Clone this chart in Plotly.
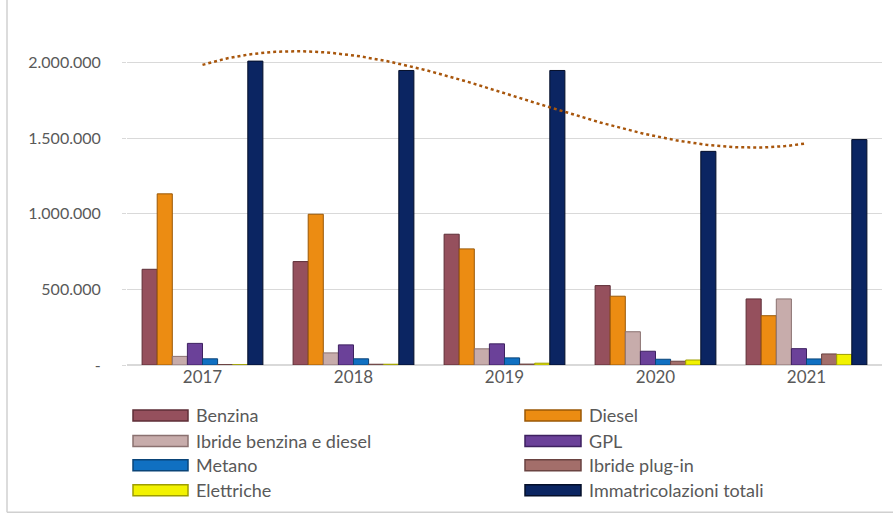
import numpy as np
import plotly.graph_objects as go

# Immatricolazioni auto in Italia per alimentazione, 2017-2021
anni = ["2017", "2018", "2019", "2020", "2021"]

benzina = [633000, 684000, 865000, 525000, 437000]
diesel = [1132000, 997000, 768000, 455000, 326000]
ibride = [57000, 80000, 107000, 220000, 437000]
gpl = [143000, 133000, 140000, 91000, 108000]
metano = [41000, 41000, 47000, 38000, 40000]
plug_in = [3000, 5000, 6000, 25000, 73000]
elettriche = [2000, 5000, 12000, 33000, 70000]
totali = [2010000, 1948000, 1948000, 1413000, 1491000]

serie_nomi = ["Benzina", "Diesel", "Ibride benzina e diesel", "GPL",
              "Metano", "Ibride plug-in", "Elettriche", "Immatricolazioni totali"]
serie_valori = [benzina, diesel, ibride, gpl, metano, plug_in, elettriche, totali]
serie_colori = ["#95505D", "#EC8C12", "#C7ACAB", "#6B4199",
                "#1070C2", "#A36E6A", "#F2F200", "#0B2562"]
serie_bordi = ["#5E2E37", "#9A5806", "#8A7170", "#3E2160",
               "#0A4478", "#6A4341", "#9E9E00", "#050F2A"]

y_tick_vals = [0, 500000, 1000000, 1500000, 2000000]
y_tick_text = ["-", "500.000", "1.000.000", "1.500.000", "2.000.000"]

W, H = 894, 517
PL, PR = 127, 882          # plot area, pixels
PT, PB = 0, 365.5
y_max = 2000000 * (PB - PT) / (PB - 62.7)

x_pos = np.arange(len(anni))

fig = go.Figure()
for nome, vals, col, bordo in zip(serie_nomi, serie_valori, serie_colori, serie_bordi):
    fig.add_trace(go.Bar(
        x=x_pos, y=vals, name=nome,
        marker=dict(color=col, line=dict(color=bordo, width=1)),
        showlegend=False,
    ))

# Linea di tendenza polinomiale (3° grado) sul totale immatricolazioni
coeff = np.polyfit(x_pos, totali, 3)
xt = np.linspace(0, len(anni) - 1, 200)
fig.add_trace(go.Scatter(
    x=xt, y=np.polyval(coeff, xt), mode="lines",
    line=dict(color="#A8560C", width=2.5, dash="dot"),
    showlegend=False, hoverinfo="skip",
))

FONT = "Lato, 'Open Sans', sans-serif"
TXT = "#595959"


def px_x(px):
    return (px - PL) / (PR - PL)


def px_y(py):
    return (PB - py) / (PB - PT)


# Legenda su due colonne
shapes = []
annotations = []
col_x = [(133, 188, 194), (525, 581, 587)]
row_y = [416, 441.5, 466, 491]
for i, (nome, col, bordo) in enumerate(zip(serie_nomi, serie_colori, serie_bordi)):
    r, c = divmod(i, 2)
    x0, x1, xt_ = col_x[c]
    yc = row_y[r]
    shapes.append(dict(
        type="rect", xref="paper", yref="paper",
        x0=px_x(x0), x1=px_x(x1), y0=px_y(yc + 5.5), y1=px_y(yc - 5.5),
        fillcolor=col, line=dict(color=bordo, width=1.5),
    ))
    annotations.append(dict(
        xref="paper", yref="paper", x=px_x(xt_), y=px_y(yc),
        text=nome, showarrow=False, xanchor="left", yanchor="middle",
        font=dict(family=FONT, size=18, color=TXT),
    ))

# Bordo dell'area del grafico
shapes.append(dict(type="line", xref="paper", yref="paper",
                   x0=px_x(7), x1=px_x(7), y0=px_y(0), y1=px_y(513),
                   line=dict(color="#D0D0D0", width=1.5)))
shapes.append(dict(type="line", xref="paper", yref="paper",
                   x0=px_x(7), x1=px_x(893), y0=px_y(513), y1=px_y(513),
                   line=dict(color="#D0D0D0", width=1.5)))

fig.update_layout(
    width=W, height=H,
    margin=dict(l=PL, r=W - PR, t=PT, b=H - PB),
    paper_bgcolor="white", plot_bgcolor="white",
    barmode="group", bargap=0.2, bargroupgap=0,
    font=dict(family=FONT, size=16, color=TXT),
    xaxis=dict(
        range=[-0.5, len(anni) - 0.5],
        tickvals=list(x_pos), ticktext=anni,
        showgrid=False, zeroline=False, showline=False,
        ticks="", tickfont=dict(size=17, color=TXT),
    ),
    yaxis=dict(
        range=[0, y_max],
        tickvals=y_tick_vals, ticktext=y_tick_text,
        showgrid=True, gridcolor="#D9D9D9", gridwidth=1,
        zeroline=True, zerolinecolor="#D9D9D9", zerolinewidth=1.5,
        showline=False, ticks="outside", ticklen=4, tickcolor="#D9D9D9",
        ticklabelstandoff=18,
        tickfont=dict(size=16, color=TXT),
    ),
    shapes=shapes,
    annotations=annotations,
)

fig.write_html("out.html")
